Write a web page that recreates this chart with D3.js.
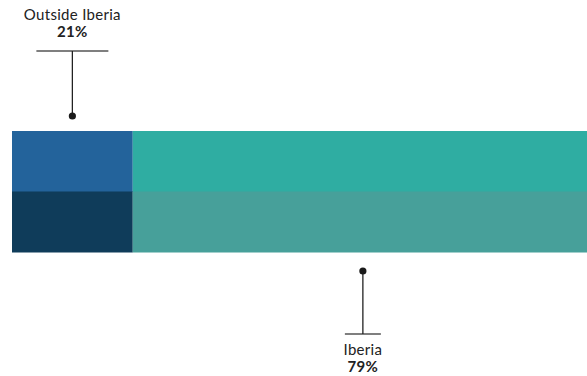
<!DOCTYPE html>
<html>
<head>
<meta charset="utf-8">
<script src="https://cdn.jsdelivr.net/npm/d3@7/dist/d3.min.js"></script>
<style>
  html, body { margin: 0; padding: 0; background: #fff; }
  svg { display: block; }
  text { font-family: Lato, "Open Sans", sans-serif; fill: #222; }
</style>
</head>
<body>
<svg id="chart" width="587" height="376"></svg>
<script>
// Share of the total by region
const categories = ["Outside Iberia", "Iberia"];
const shares = [21, 79];
const rows = ["top", "bottom"];
const colors = {
  top: ["#23639b", "#2fada2"],
  bottom: ["#0f3c5a", "#47a09a"]
};

const W = 587, H = 376;
const svg = d3.select("#chart");

const x = d3.scaleLinear().domain([0, 100]).range([12, 587]);
const y = d3.scaleBand().domain(rows).range([131, 252]).padding(0);

// cumulative start of each segment
const starts = d3.cumsum([0, ...shares]).slice(0, shares.length);
const segs = categories.map((c, i) => ({ c, i, v: shares[i], s: starts[i] }));

rows.forEach(r => {
  svg.append("g").selectAll("rect")
    .data(segs)
    .join("rect")
    .attr("x", d => x(d.s))
    .attr("y", y(r))
    .attr("width", d => x(d.s + d.v) - x(d.s))
    .attr("height", y.bandwidth() + 0.5)
    .attr("fill", d => colors[r][d.i]);
});

// Leader-line annotations: first above the bar, second below it
const ann = svg.append("g");
segs.forEach(d => {
  const cx = x(d.s + d.v / 2) + (d.i === 0 ? 0 : 3);
  const above = d.i === 0;
  const dotY = above ? 116 : 271;
  const barY = above ? 51 : 334;
  const half = above ? 36 : 18;
  ann.append("line")
    .attr("x1", cx - half).attr("x2", cx + half)
    .attr("y1", barY).attr("y2", barY)
    .attr("stroke", "#555").attr("stroke-width", 1.3);
  ann.append("line")
    .attr("x1", cx).attr("x2", cx)
    .attr("y1", barY).attr("y2", dotY)
    .attr("stroke", "#222").attr("stroke-width", 1.3);
  ann.append("circle")
    .attr("cx", cx).attr("cy", dotY).attr("r", 3.6)
    .attr("fill", "#1a1a1a");
  const ty = above ? 19.5 : 354.5;
  ann.append("text")
    .attr("x", cx).attr("y", ty)
    .attr("text-anchor", "middle")
    .attr("font-size", 15)
    .attr("letter-spacing", 0.3)
    .text(d.c);
  ann.append("text")
    .attr("x", cx).attr("y", ty + 17.5)
    .attr("text-anchor", "middle")
    .attr("font-size", 15)
    .attr("font-weight", 700)
    .attr("letter-spacing", 0.3)
    .text(d.v + "%");
});
</script>
</body>
</html>
